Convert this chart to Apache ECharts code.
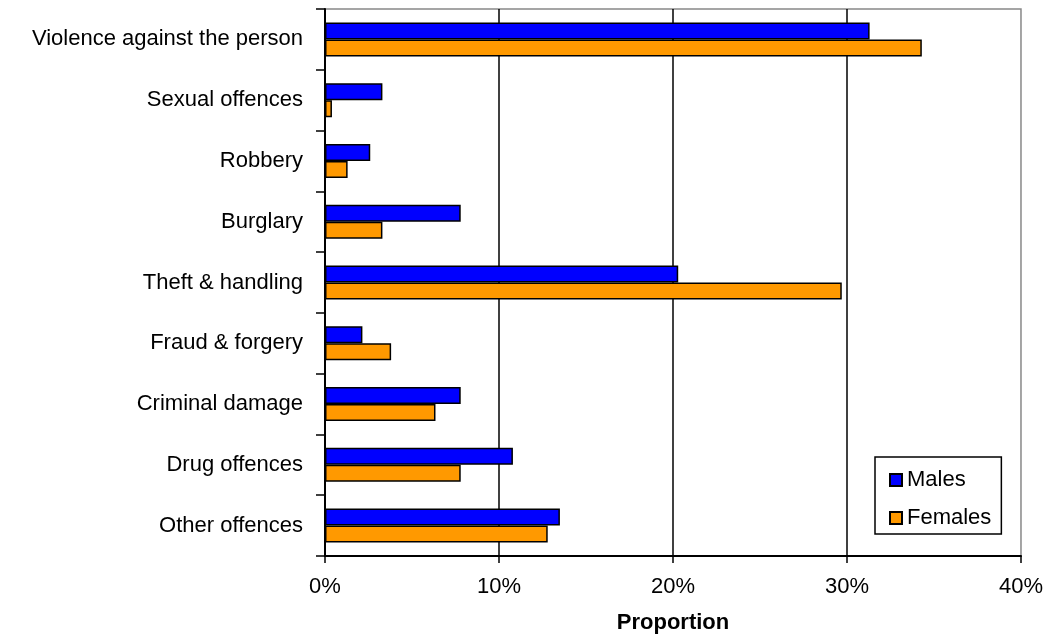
<!DOCTYPE html>
<html>
<head>
<meta charset="utf-8">
<script src="https://cdn.jsdelivr.net/npm/echarts@6/dist/echarts.min.js"></script>
<style>
html,body{margin:0;padding:0;background:#fff;}
#chart{width:1046px;height:639px;}
</style>
</head>
<body>
<div id="chart"></div>
<script>
var categories = ["Violence against the person","Sexual offences","Robbery","Burglary","Theft & handling","Fraud & forgery","Criminal damage","Drug offences","Other offences"];
var males = [31.3, 3.3, 2.6, 7.8, 20.3, 2.15, 7.8, 10.8, 13.5];
var females = [34.3, 0.4, 1.3, 3.3, 29.7, 3.8, 6.35, 7.8, 12.8];
var xTicks = [0, 10, 20, 30, 40];

var FONT = '"Liberation Sans", Arial, sans-serif';
var chart = echarts.init(document.getElementById('chart'));
chart.setOption({
  animation: false,
  backgroundColor: '#fff',
  grid: {left: 325, right: 25, top: 9, bottom: 79, show: true, borderColor: '#888', borderWidth: 1.5, backgroundColor: 'transparent'},
  legend: {
    orient: 'vertical', left: 875, top: 457,
    padding: [12, 10, 5, 14], itemGap: 16,
    itemWidth: 12, itemHeight: 12, icon: 'rect',
    borderColor: '#000', borderWidth: 1.5, backgroundColor: '#fff',
    textStyle: {fontFamily: FONT, fontSize: 22, color: '#000'},
    data: ['Males', 'Females']
  },
  xAxis: {
    type: 'value', min: xTicks[0], max: xTicks[xTicks.length - 1], interval: 10,
    name: 'Proportion', nameLocation: 'middle', nameGap: 56,
    nameTextStyle: {fontFamily: FONT, fontSize: 22, fontWeight: 'bold', color: '#000'},
    axisLine: {show: true, lineStyle: {color: '#000', width: 2}},
    axisTick: {show: true, length: 7, lineStyle: {color: '#000', width: 1.5}},
    axisLabel: {margin: 20, fontFamily: FONT, fontSize: 22, color: '#000', formatter: '{value}%'},
    splitLine: {show: true, showMinLine: false, showMaxLine: false, lineStyle: {color: '#000', width: 1.5}}
  },
  yAxis: {
    type: 'category', data: categories, inverse: true,
    axisLine: {show: true, lineStyle: {color: '#000', width: 2}},
    axisTick: {show: true, length: 9, lineStyle: {color: '#000', width: 1.5}},
    axisLabel: {margin: 22, fontFamily: FONT, fontSize: 22, color: '#000'},
    splitLine: {show: false}
  },
  series: [
    {name: 'Males', type: 'bar', data: males, barWidth: 17, barGap: '0%',
     itemStyle: {color: '#0000FF', borderColor: '#000', borderWidth: 1.5}},
    {name: 'Females', type: 'bar', data: females, barWidth: 17, barGap: '0%',
     itemStyle: {color: '#FF9900', borderColor: '#000', borderWidth: 1.5}}
  ]
});
</script>
</body>
</html>
